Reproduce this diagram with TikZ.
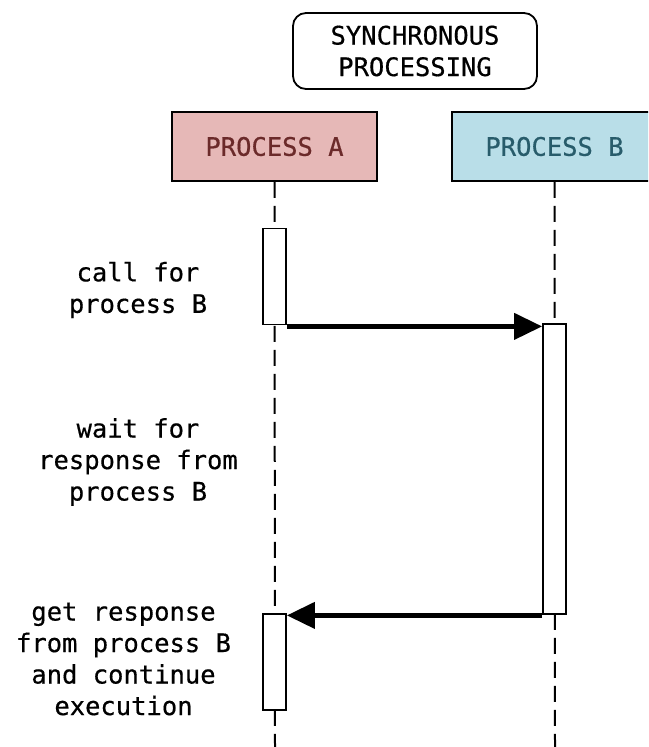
\documentclass[tikz,border=0pt]{standalone}
\usepackage{fontspec}
\newfontfamily\diagmono[FakeBold=0.5]{DejaVu Sans Mono}
\usetikzlibrary{arrows.meta}
\definecolor{afill}{HTML}{E6B8B7}
\definecolor{atext}{HTML}{6B2A2A}
\definecolor{bfill}{HTML}{B9DEE8}
\definecolor{btext}{HTML}{285C6B}
\tikzset{
  txt/.style={font=\diagmono\fontsize{25.5}{31.5}\selectfont},
  lbl/.style={txt, align=center, inner sep=0pt},
  actor/.style={txt, draw=black, line width=1.8pt, minimum width=205pt, minimum height=69pt, inner sep=0pt},
  titlebox/.style={txt, draw=black, line width=1.8pt, rounded corners=13pt, fill=white,
    minimum width=244pt, minimum height=76pt, inner sep=0pt, align=center},
  life/.style={black, line width=2pt, dash pattern=on 16pt off 8pt},
  activation/.style={draw=black, fill=white, line width=1.8pt, minimum width=23pt, inner sep=0pt},
  msg/.style={line width=4.2pt, -{Triangle[length=28pt,width=26pt]}}
}
\begin{document}
\begin{tikzpicture}[x=1pt,y=-1pt]
\useasboundingbox (0,0) rectangle (648,747);
\clip (0,0) rectangle (648,747);

% heading
\node[titlebox] (title) at (415,51) {SYNCHRONOUS\\PROCESSING};

% participants
\node[actor, fill=afill, text=atext] (pa) at (274.5,146.5) {PROCESS A};
\node[actor, fill=bfill, text=btext] (pb) at (554.5,146.5) {PROCESS B};

% lifelines
\coordinate (aend) at (275,747);
\coordinate (bend) at (555,747);
\draw[life] (pa.south) -- (aend);
\draw[life] (pb.south) -- (bend);

% activation bars
\node[activation, minimum height=96pt] (a1) at (274.5,276.5) {};
\node[activation, minimum height=290pt] (b1) at (554.5,469) {};
\node[activation, minimum height=96pt] (a2) at (274.5,662) {};

% messages
\coordinate (m1s) at ([yshift=-1pt]a1.south east);
\draw[msg] (m1s) -- (m1s -| b1.west);
\coordinate (m2s) at ([yshift=-0.5pt]b1.south west);
\draw[msg] (m2s) -- (m2s -| a2.east);

% annotations
\node[lbl] (t1) at (138,290) {call for\\process B};
\node[lbl] (t2) at (138,462) {wait for\\response from\\process B};
\node[lbl] (t3) at (123.5,659) {get response\\from process B\\and continue\\execution};
\end{tikzpicture}
\end{document}
